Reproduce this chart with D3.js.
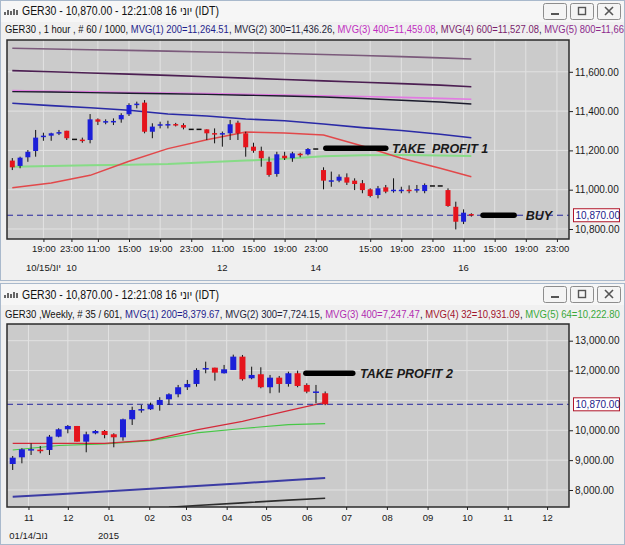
<!DOCTYPE html>
<html>
<head>
<meta charset="utf-8">
<script src="https://cdn.jsdelivr.net/npm/d3@7"></script>
<style>
  body { margin: 0; background: #f0f0f0; }
  svg { display: block; font-family: "Liberation Sans", Arial, sans-serif; }
  text { white-space: pre; }
</style>
</head>
<body>
<div id="chart"></div>
<script>
// ---------- hourly chart (top window) ----------
// one row per bar: open, high, low, close
const hourOHLC = [
  [11148, 11161, 11100, 11114], [11121, 11168, 11109, 11163], [11165, 11202, 11142, 11193],
  [11197, 11304, 11168, 11265], [11270, 11290, 11249, 11275], [11275, 11290, 11249, 11287],
  [11290, 11304, 11278, 11293], [11300, 11300, 11253, 11262], [11256, 11256, 11256, 11256],
  [11255, 11265, 11239, 11252], [11253, 11385, 11236, 11358], [11358, 11363, 11329, 11346],
  [11344, 11358, 11333, 11349], [11349, 11363, 11329, 11350], [11358, 11389, 11341, 11380],
  [11384, 11440, 11375, 11431], [11434, 11448, 11414, 11438], [11443, 11456, 11287, 11295],
  [11295, 11338, 11262, 11321], [11330, 11346, 11312, 11333], [11331, 11351, 11312, 11334],
  [11334, 11340, 11322, 11330], [11329, 11338, 11307, 11316], [11307, 11307, 11307, 11307],
  [11307, 11307, 11307, 11307], [11307, 11307, 11253, 11287], [11288, 11312, 11236, 11287],
  [11286, 11296, 11219, 11288], [11287, 11355, 11253, 11333], [11341, 11351, 11253, 11287],
  [11287, 11295, 11168, 11216], [11219, 11239, 11188, 11198], [11198, 11219, 11117, 11160],
  [11142, 11168, 11066, 11075], [11080, 11193, 11066, 11180], [11173, 11193, 11151, 11160],
  [11160, 11193, 11142, 11185], [11183, 11188, 11165, 11180], [11180, 11212, 11175, 11207],
  [11207, 11207, 11207, 11207], [11100, 11114, 11002, 11046], [11044, 11092, 11015, 11048],
  [11046, 11078, 11038, 11066], [11063, 11083, 11024, 11036], [11046, 11058, 10998, 11029],
  [11033, 11049, 10982, 10998], [11002, 11007, 10961, 10968], [10973, 11019, 10956, 11007],
  [11012, 11024, 10982, 10990], [10996, 11058, 10985, 11000], [10997, 11015, 10982, 11000],
  [11000, 11022, 10982, 10996], [10999, 11024, 10985, 11003], [10993, 11032, 10982, 11024],
  [11019, 11019, 11019, 11019], [11019, 11019, 11019, 11019], [10998, 11007, 10913, 10917],
  [10913, 10939, 10798, 10837], [10837, 10900, 10825, 10883], [10876, 10880, 10863, 10870]
];
const hourTicks = [4, 7.6, 11, 15, 19, 23, 27, 31, 35, 39, 46, 50, 54, 58, 62, 66, 70];
const hourTickLabels = ["19:00", "23:00", "11:00", "15:00", "19:00", "23:00", "11:00", "15:00",
  "19:00", "23:00", "15:00", "19:00", "23:00", "11:00", "15:00", "19:00", "23:00"];
const hourDayTicks = [4, 7.6, 27, 39, 58];
const hourDayLabels = [["10/15/", "יונ"], ["10"], ["12"], ["14"], ["16"]];
const hourPriceTicks = [10800, 11000, 11200, 11400, 11600];

// moving averages, read every 5 bars
const hourMaIdx = [0, 5, 10, 15, 20, 25, 30, 35, 40, 45, 50, 55, 59];
const hourMa800 = [11720, 11716, 11712, 11709, 11705, 11701, 11697, 11693, 11688, 11683, 11677, 11671, 11665];
const hourMa600 = [11606, 11600, 11594, 11588, 11582, 11575, 11568, 11561, 11554, 11547, 11540, 11532, 11524];
const hourMa400 = [11504, 11501, 11498, 11495, 11492, 11489, 11485, 11482, 11478, 11474, 11470, 11465, 11460];
const hourMa300 = [11499, 11497, 11494, 11491, 11488, 11485, 11481, 11477, 11472, 11464, 11455, 11446, 11436];
const hourMa200 = [11440, 11428, 11417, 11404, 11385, 11375, 11360, 11351, 11334, 11316, 11301, 11282, 11264];
const hourMaRed = [11010, 11034, 11073, 11145, 11209, 11254, 11294, 11288, 11278, 11222, 11160, 11109, 11066];
const hourMaGreen = [11117, 11121, 11125, 11127, 11131, 11140, 11148, 11157, 11170, 11175, 11176, 11174, 11172];

// drawn levels: [from bar, to bar, price, label, label bar]
const hourLevels = [
  [40.3, 48, 11211, "TAKE  PROFIT 1", 48.8],
  [60.5, 64.5, 10870, "BUY", 66]
];

// ---------- weekly chart (bottom window) ----------
const weekStart = new Date(2014, 9, 20);
const weekOHLC = [
  [8871, 9139, 8670, 9082], [9095, 9397, 8894, 9363], [9360, 9564, 9173, 9370],
  [9350, 9474, 9229, 9340], [9340, 9843, 9173, 9786], [9786, 10067, 9765, 10033],
  [10033, 10178, 9899, 10144], [10144, 10144, 9618, 9618], [9618, 9953, 9263, 9866],
  [9899, 10010, 9866, 9977], [9977, 10010, 9732, 9843], [9866, 9899, 9430, 9765],
  [9765, 10390, 9652, 10368], [10368, 10791, 10178, 10680], [10700, 10848, 10590, 10710],
  [10703, 10925, 10680, 10848], [10848, 11106, 10657, 11015], [11038, 11239, 10848, 11206],
  [11206, 11518, 11106, 11441], [11441, 11685, 11350, 11551], [11551, 12077, 11461, 12020],
  [12070, 12298, 11909, 12085], [12097, 12097, 11662, 11930], [11909, 12188, 11900, 12043],
  [12020, 12533, 12020, 12466], [12466, 12522, 11662, 11709], [11742, 12130, 11709, 11853],
  [11876, 12110, 11407, 11441], [11441, 11853, 11240, 11762], [11762, 11819, 11260, 11551],
  [11551, 11963, 11461, 11910], [11910, 11997, 11441, 11484], [11518, 11574, 11240, 11293],
  [11290, 11518, 10903, 11300], [11240, 11300, 10840, 10870]
];
const weekGridTicks = [8000, 9000, 10000, 11000, 12000, 13000];
const weekPriceTicks = [8000, 9000, 10000, 12000, 13000]; // 11,000 sits under the price box
const weekYearLabels = [[new Date(2014, 10, 1), ["01/14/", "נוב"]], [new Date(2015, 0, 1), ["2015"]]];

const weekMaIdx = [0, 5, 10, 15, 20, 25, 30, 34];
const weekMa200 = [7776, 7860, 7950, 8040, 8130, 8230, 8330, 8400];
const weekMa32 = [9564, 9564, 9564, 9670, 10010, 10300, 10657, 10931];
const weekMa64 = [9340, 9490, 9548, 9655, 9910, 10060, 10190, 10223];
const weekMa300Idx = [17, 20, 25, 30, 34];
const weekMa300 = [7420, 7480, 7570, 7660, 7724];

const weekLevels = [[31.9, 37, 11910, "TAKE PROFIT 2", 37.8]];
const lastPrice = 10870;

// ---------- layout / styles ----------
const W = 625, H = 545;
const COLORS = {
  up: "#1c1fd8", down: "#e5141c", wick: "#111",
  plotBg: "#cbcbcb", grid: "#e2e2e2", frame: "#2b2b2b",
  dash: "#2828a0", box: "#b0162a", boxText: "#1c1c8a", text: "#1a1a1a"
};
const AXIS_FONT = 9.5;

const svg = d3.select("#chart").append("svg").attr("width", W).attr("height", H);
svg.append("rect").attr("width", W).attr("height", H).attr("fill", "#f0f0f0");

const panels = [
  { win: [0, 281], plot: { x0: 7, x1: 569, y0: 40, y1: 239 }, titleY: 15, infoY: 33,
    info: [["GER30 , 1 hour , # 60 / 1000, ", "#111"], ["MVG(1) 200=11,264.51", "#1e1e8c"], [", ", "#111"],
      ["MVG(2) 300=11,436.26", "#23233a"], [", ", "#111"], ["MVG(3) 400=11,459.08", "#c02cc0"], [", ", "#111"],
      ["MVG(4) 600=11,527.08", "#7a1d6c"], [", ", "#111"], ["MVG(5) 800=11,66", "#8c2a8c"]],
    infoEnd: 624 },
  { win: [283, 545], plot: { x0: 7, x1: 569, y0: 324, y1: 507 }, titleY: 299, infoY: 318,
    info: [["GER30 ,Weekly, # 35 / 601, ", "#111"], ["MVG(1) 200=8,379.67", "#1e1e8c"], [", ", "#111"],
      ["MVG(2) 300=7,724.15", "#23233a"], [", ", "#111"], ["MVG(3) 400=7,247.47", "#b02cb0"], [", ", "#111"],
      ["MVG(4) 32=10,931.09", "#a0142c"], [", ", "#111"], ["MVG(5) 64=10,222.80", "#3aa83a"]],
    infoEnd: 620 }
];

// lay text pieces side by side (keeps Hebrew pieces in their own run)
function seqText(parent, pieces, fontSize) {
  const g = parent.append("g");
  let cx = 0;
  pieces.forEach(([s, c]) => {
    const t = g.append("text").attr("x", cx).attr("y", 0).attr("font-size", fontSize)
      .attr("fill", c || COLORS.text).text(s);
    cx += t.node().getComputedTextLength();
  });
  return { g, width: cx };
}
// squeeze a run of pieces so it spans x0..x1
function fitPieces(parent, pieces, fontSize, x0, x1, y) {
  const { g, width } = seqText(parent, pieces, fontSize);
  g.attr("transform", `translate(${x0},${y}) scale(${(x1 - x0) / width},1)`);
}
function centerPieces(parent, pieces, fontSize, cx, y) {
  const { g, width } = seqText(parent, pieces.map(s => [s]), fontSize);
  g.attr("transform", `translate(${cx - width / 2},${y})`);
}

// window frame, title bar and info line
function drawWindow(p) {
  const g = svg.append("g");
  const [wy0, wy1] = p.win;
  g.append("rect").attr("x", 0.5).attr("y", wy0 + 0.5).attr("width", W - 1).attr("height", wy1 - wy0 - 1)
    .attr("fill", "#f0f0f0").attr("stroke", "#a9b9cc");
  g.append("rect").attr("x", 1).attr("y", wy0 + 1).attr("width", W - 2).attr("height", 21).attr("fill", "#f6f6f6");

  // small chart icon
  [3, 5, 4, 6, 5].forEach((h, i) => {
    g.append("rect").attr("x", 4 + i * 3).attr("y", wy0 + 15 - h).attr("width", 2).attr("height", h).attr("fill", "#666");
  });
  fitPieces(g, [["GER30 - 10,870.00 - 12:21:08 16 ", "#111"], ["יוני", "#111"], [" (IDT)", "#111"]],
    12, 22, 219, p.titleY);

  // minimize / maximize / close buttons
  [543, 570, 597].forEach((bx, i) => {
    const b = g.append("g").attr("transform", `translate(${bx},${wy0 + 3})`);
    b.append("rect").attr("x", 0.5).attr("y", 0.5).attr("width", 23).attr("height", 16).attr("rx", 2)
      .attr("fill", "#f4f4f4").attr("stroke", "#8d8d8d");
    if (i === 0) b.append("rect").attr("x", 8).attr("y", 10).attr("width", 8).attr("height", 2).attr("fill", "#555");
    if (i === 1) b.append("rect").attr("x", 8.5).attr("y", 4.5).attr("width", 7).attr("height", 7).attr("fill", "none").attr("stroke", "#555").attr("stroke-width", 1.4);
    if (i === 2) b.append("path").attr("d", "M8,4L16,12M16,4L8,12").attr("stroke", "#555").attr("stroke-width", 1.6);
  });

  fitPieces(g, p.info, 10.5, 5, p.infoEnd, p.infoY);
}
panels.forEach(drawWindow);

// shared drawing helpers
function plotArea(p, id) {
  const { x0, x1, y0, y1 } = p.plot;
  svg.append("clipPath").attr("id", id).append("rect")
    .attr("x", x0).attr("y", y0).attr("width", x1 - x0).attr("height", y1 - y0);
  svg.append("rect").attr("x", x0).attr("y", y0).attr("width", x1 - x0).attr("height", y1 - y0)
    .attr("fill", COLORS.plotBg);
  return svg.append("g").attr("clip-path", `url(#${id})`);
}

function drawGrid(g, p, xs, ys) {
  g.selectAll(".vgrid").data(xs).join("line").attr("class", "vgrid")
    .attr("x1", d => d).attr("x2", d => d).attr("y1", p.plot.y0).attr("y2", p.plot.y1)
    .attr("stroke", COLORS.grid).attr("stroke-width", 1);
  g.selectAll(".hgrid").data(ys).join("line").attr("class", "hgrid")
    .attr("x1", p.plot.x0).attr("x2", p.plot.x1).attr("y1", d => d).attr("y2", d => d)
    .attr("stroke", COLORS.grid).attr("stroke-width", 1);
}

function drawMa(g, xs, vals, x, y, color, width) {
  const line = d3.line().x(d => x(d[0])).y(d => y(d[1]));
  g.append("path").datum(xs.map((v, i) => [v, vals[i]]))
    .attr("d", line).attr("fill", "none").attr("stroke", color).attr("stroke-width", width)
    .attr("stroke-linejoin", "round");
}

function drawCandles(g, data, x, y, bodyW) {
  const c = g.selectAll(".candle").data(data).join("g").attr("class", "candle");
  c.append("line")
    .attr("x1", d => x(d.t)).attr("x2", d => x(d.t))
    .attr("y1", d => y(d.h)).attr("y2", d => y(d.l))
    .attr("stroke", COLORS.wick).attr("stroke-width", 1);
  c.append("rect")
    .attr("x", d => x(d.t) - bodyW / 2)
    .attr("y", d => Math.min(y(d.o), y(d.c)) - (d.o === d.c ? 0.75 : 0))
    .attr("width", bodyW)
    .attr("height", d => Math.max(1.5, Math.abs(y(d.o) - y(d.c))))
    .attr("fill", d => d.c > d.o ? COLORS.up : d.c < d.o ? COLORS.down : "#111");
}

function drawLevels(g, levels, x, y) {
  levels.forEach(([a, b, price, label, lx]) => {
    g.append("line").attr("x1", x(a)).attr("x2", x(b)).attr("y1", y(price)).attr("y2", y(price))
      .attr("stroke", "#000").attr("stroke-width", 5.5).attr("stroke-linecap", "round");
    g.append("text").attr("x", x(lx)).attr("y", y(price)).attr("dy", "0.36em")
      .attr("font-size", 12.5).attr("font-weight", "bold").attr("font-style", "italic")
      .attr("fill", COLORS.text).text(label);
  });
}

function drawLastPrice(g, p, y) {
  g.append("line").attr("x1", p.plot.x0).attr("x2", p.plot.x1)
    .attr("y1", y(lastPrice)).attr("y2", y(lastPrice))
    .attr("stroke", COLORS.dash).attr("stroke-width", 1).attr("stroke-dasharray", "6,4");
}

function drawFrame(p) {
  const { x0, x1, y0, y1 } = p.plot;
  svg.append("rect").attr("x", x0).attr("y", y0).attr("width", x1 - x0).attr("height", y1 - y0)
    .attr("fill", "none").attr("stroke", COLORS.frame).attr("stroke-width", 1.5);
}

function drawPriceAxis(p, y, ticks) {
  const ax = svg.append("g").attr("transform", `translate(${p.plot.x1},0)`)
    .call(d3.axisRight(y).tickValues(ticks).tickSize(4).tickPadding(2).tickFormat(d3.format(",.2f")));
  ax.select(".domain").remove();
  ax.selectAll("line").attr("stroke", "#222");
  ax.selectAll("text").attr("font-size", 10).attr("font-family", "Liberation Sans, Arial, sans-serif").attr("fill", COLORS.text);
  // current price box
  const b = svg.append("g").attr("transform", `translate(${p.plot.x1 + 4},${y(lastPrice)})`);
  b.append("rect").attr("x", 0.5).attr("y", -6.5).attr("width", 46).attr("height", 13)
    .attr("fill", "#fff").attr("stroke", COLORS.box);
  b.append("text").attr("x", 2.5).attr("dy", "0.36em").attr("font-size", 10).attr("fill", COLORS.boxText)
    .text(d3.format(",.2f")(lastPrice));
}

function styleTimeAxis(ax) {
  ax.select(".domain").remove();
  ax.selectAll("line").attr("stroke", "#222");
  ax.selectAll("text").attr("font-size", AXIS_FONT).attr("font-family", "Liberation Sans, Arial, sans-serif").attr("fill", COLORS.text);
}

// ---------- top: hourly ----------
{
  const p = panels[0];
  const x = d3.scaleLinear().domain([0, 71.5]).range([12.3, 568.6]);
  const y = d3.scaleLinear().domain([10800, 11600]).range([229, 71.8]);
  const g = plotArea(p, "clipHour");
  drawGrid(g, p, hourTicks.map(x), hourPriceTicks.map(y));

  drawMa(g, hourMaIdx, hourMa800, x, y, "#7b5a7b", 1.6);
  drawMa(g, hourMaIdx, hourMa600, x, y, "#4c1f52", 1.6);
  drawMa(g, hourMaIdx, hourMa400, x, y, "#e27ae2", 1.6);
  drawMa(g, hourMaIdx, hourMa300, x, y, "#1b1b2c", 1.4);
  drawMa(g, hourMaIdx, hourMa200, x, y, "#2a2aa6", 1.6);
  drawMa(g, hourMaIdx, hourMaGreen, x, y, "#86dc86", 2);
  drawMa(g, hourMaIdx, hourMaRed, x, y, "#e2484a", 1.5);

  drawLastPrice(g, p, y);
  drawCandles(g, hourOHLC.map(([o, h, l, c], i) => ({ t: i, o, h, l, c })), x, y, 5);
  drawLevels(g, hourLevels, x, y);
  drawFrame(p);
  drawPriceAxis(p, y, hourPriceTicks);

  const ax = svg.append("g").attr("transform", `translate(0,${p.plot.y1})`)
    .call(d3.axisBottom(x).tickValues(hourTicks).tickSize(3).tickPadding(3)
      .tickFormat((d, i) => hourTickLabels[i]));
  styleTimeAxis(ax);
  const days = svg.append("g");
  hourDayTicks.forEach((d, i) => centerPieces(days, hourDayLabels[i], AXIS_FONT, x(d), p.plot.y1 + 32));
}

// ---------- bottom: weekly ----------
{
  const p = panels[1];
  const week = i => new Date(+weekStart + i * 7 * 864e5);
  const x = d3.scaleTime().domain([weekStart, week(60.53)]).range([12.7, 569]);
  const y = d3.scaleLinear().domain([8000, 13000]).range([490, 340.7]);
  const months = x.ticks(d3.timeMonth.every(1));
  const g = plotArea(p, "clipWeek");
  drawGrid(g, p, months.map(x), weekGridTicks.map(y));

  const xi = i => x(week(i));
  drawMa(g, weekMa300Idx, weekMa300, xi, y, "#2e2e2e", 1.6);
  drawMa(g, weekMaIdx, weekMa200, xi, y, "#3c3ca4", 2);
  drawMa(g, weekMaIdx, weekMa64, xi, y, "#46c846", 1.2);
  drawMa(g, weekMaIdx, weekMa32, xi, y, "#d42a3a", 1.3);

  drawLastPrice(g, p, y);
  drawCandles(g, weekOHLC.map(([o, h, l, c], i) => ({ t: week(i), o, h, l, c })), x, y, 6);
  drawLevels(g, weekLevels.map(([a, b, pr, lb, lx]) => [week(a), week(b), pr, lb, week(lx)]), x, y);
  drawFrame(p);
  drawPriceAxis(p, y, weekPriceTicks);

  const ax = svg.append("g").attr("transform", `translate(0,${p.plot.y1})`)
    .call(d3.axisBottom(x).tickValues(months).tickSize(3).tickPadding(4)
      .tickFormat(d3.timeFormat("%m")));
  styleTimeAxis(ax);
  const years = svg.append("g");
  weekYearLabels.forEach(([d, pieces]) => centerPieces(years, pieces, AXIS_FONT, x(d), p.plot.y1 + 32));
}
</script>
</body>
</html>
